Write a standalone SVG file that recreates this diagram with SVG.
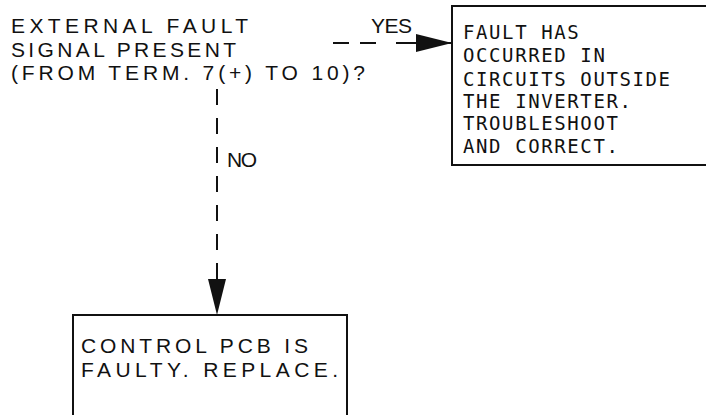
<svg xmlns="http://www.w3.org/2000/svg" width="706" height="415" viewBox="0 0 706 415">
  <style>
    .plot { font-family: "Liberation Sans", Arial, sans-serif; font-size: 21px; fill: #111; }
    .mono { font-family: "DejaVu Sans Mono", "Liberation Mono", monospace; font-size: 19px; letter-spacing: 1.6px; fill: #111; }
    .box { fill: none; stroke: #111; stroke-width: 2; }
    .conn { fill: none; stroke: #111; stroke-width: 2; }
  </style>
  <defs>
    <marker id="arrow" markerUnits="userSpaceOnUse" markerWidth="38" markerHeight="20" refX="37" refY="10" orient="auto">
      <path d="M1,1 L37,10 L1,19 Z" fill="#111"/>
    </marker>
  </defs>
  <rect width="706" height="415" fill="#fff"/>

  <g id="question">
    <text class="plot" x="11" y="33" textLength="237" lengthAdjust="spacing">EXTERNAL FAULT</text>
    <text class="plot" x="11" y="57" textLength="225" lengthAdjust="spacing">SIGNAL PRESENT</text>
    <text class="plot" x="11" y="80" textLength="354" lengthAdjust="spacing">(FROM TERM. 7(+) TO 10)?</text>
  </g>

  <g id="outside-fault">
    <path class="box" d="M710,6 H452 V165 H710"/>
    <text class="mono" x="463" y="39">FAULT HAS</text>
    <text class="mono" x="463" y="62">OCCURRED IN</text>
    <text class="mono" x="463" y="86">CIRCUITS OUTSIDE</text>
    <text class="mono" x="463" y="108">THE INVERTER.</text>
    <text class="mono" x="463" y="130">TROUBLESHOOT</text>
    <text class="mono" x="463" y="153">AND CORRECT.</text>
  </g>

  <g id="replace-pcb">
    <path class="box" d="M73,420 V315 H347 V420"/>
    <text class="plot" x="81" y="353" textLength="227" lengthAdjust="spacing">CONTROL PCB IS</text>
    <text class="plot" x="81" y="377" textLength="257" lengthAdjust="spacing">FAULTY. REPLACE.</text>
  </g>

  <g id="connectors">
    <path class="conn" d="M333,43 H452" stroke-dasharray="16,11,16,20,60" marker-end="url(#arrow)"/>
    <text class="plot" x="371" y="33" textLength="41" lengthAdjust="spacing">YES</text>
    <path class="conn" d="M217,89 V315" stroke-dasharray="16,13" marker-end="url(#arrow)"/>
    <text class="plot" x="227" y="167" textLength="30" lengthAdjust="spacing">NO</text>
  </g>
</svg>
